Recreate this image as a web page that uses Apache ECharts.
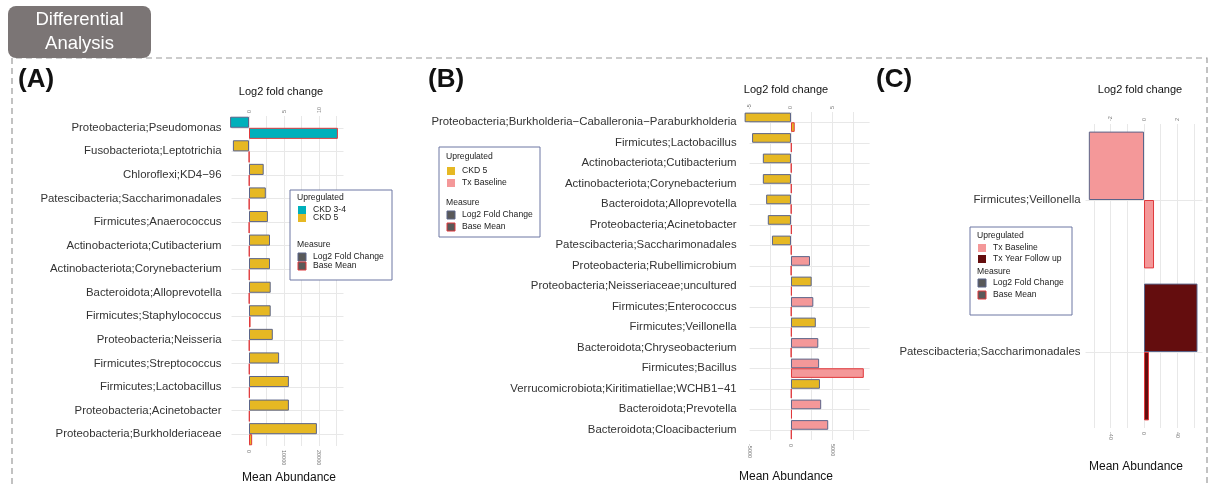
<!DOCTYPE html>
<html>
<head>
<meta charset="utf-8">
<script src="https://cdn.jsdelivr.net/npm/echarts@6/dist/echarts.min.js"></script>
<style>
  html, body { margin: 0; padding: 0; background: #fff; }
  #main { width: 1211px; height: 484px; }
</style>
</head>
<body>
<div id="main"></div>
<script>
// panel A : CKD 3-4 vs CKD 5
var catA = ['Proteobacteria;Pseudomonas', 'Fusobacteriota;Leptotrichia', 'Chloroflexi;KD4\u221296',
  'Patescibacteria;Saccharimonadales', 'Firmicutes;Anaerococcus', 'Actinobacteriota;Cutibacterium',
  'Actinobacteriota;Corynebacterium', 'Bacteroidota;Alloprevotella', 'Firmicutes;Staphylococcus',
  'Proteobacteria;Neisseria', 'Firmicutes;Streptococcus', 'Firmicutes;Lactobacillus',
  'Proteobacteria;Acinetobacter', 'Proteobacteria;Burkholderiaceae'];
var log2A = [-2.7, -2.3, 2.1, 2.4, 2.7, 3.0, 3.0, 3.1, 3.1, 3.4, 4.3, 5.7, 5.7, 9.7];
var baseA = [25400, 60, 120, 90, 80, 150, 140, 110, 450, 130, 160, 200, 190, 900];
var groupA = ['CKD 3-4', 'CKD 5', 'CKD 5', 'CKD 5', 'CKD 5', 'CKD 5', 'CKD 5', 'CKD 5', 'CKD 5',
  'CKD 5', 'CKD 5', 'CKD 5', 'CKD 5', 'CKD 5'];

// panel B : CKD 5 vs Tx Baseline
var catB = ['Proteobacteria;Burkholderia\u2212Caballeronia\u2212Paraburkholderia', 'Firmicutes;Lactobacillus',
  'Actinobacteriota;Cutibacterium', 'Actinobacteriota;Corynebacterium', 'Bacteroidota;Alloprevotella',
  'Proteobacteria;Acinetobacter', 'Patescibacteria;Saccharimonadales', 'Proteobacteria;Rubellimicrobium',
  'Proteobacteria;Neisseriaceae;uncultured', 'Firmicutes;Enterococcus', 'Firmicutes;Veillonella',
  'Bacteroidota;Chryseobacterium', 'Firmicutes;Bacillus', 'Verrucomicrobiota;Kiritimatiellae;WCHB1\u221241',
  'Bacteroidota;Prevotella', 'Bacteroidota;Cloacibacterium'];
var log2B = [-5.6, -4.7, -3.4, -3.4, -3.0, -2.8, -2.3, 2.3, 2.5, 2.7, 3.0, 3.3, 3.4, 3.5, 3.65, 4.5];
var baseB = [450, 80, 60, 70, 50, 90, 60, 40, 100, 60, 90, 40, 8800, 70, 120, 80];
var groupB = ['CKD 5', 'CKD 5', 'CKD 5', 'CKD 5', 'CKD 5', 'CKD 5', 'CKD 5', 'Tx Baseline',
  'CKD 5', 'Tx Baseline', 'CKD 5', 'Tx Baseline', 'Tx Baseline', 'CKD 5', 'Tx Baseline', 'Tx Baseline'];

// panel C : Tx Baseline vs Tx Year Follow up
var catC = ['Firmicutes;Veillonella', 'Patescibacteria;Saccharimonadales'];
var log2C = [-3.3, 3.2];
var baseC = [12, 6];
var groupC = ['Tx Baseline', 'Tx Year Follow up'];

var groupColor = {
  'CKD 3-4': '#00b0bb',
  'CKD 5': '#e6b823',
  'Tx Baseline': '#f49899',
  'Tx Year Follow up': '#640d0e'
};
var log2Border = '#5b6489';
var baseBorder = '#e0393c';
var font = 'Liberation Sans, Arial, sans-serif';

function barData(vals, groups, border) {
  return vals.map(function (v, i) {
    return { value: v, itemStyle: { color: groupColor[groups[i]], borderColor: border, borderWidth: 1 } };
  });
}

function keepLabels(list) {
  return function (v) {
    for (var i = 0; i < list.length; i++) {
      if (Math.abs(v - list[i]) < 1e-6) return String(list[i]);
    }
    return '';
  };
}

function topAxis(grid, min, max, interval, labels) {
  var ax = {
    type: 'value', gridIndex: grid, position: 'top', min: min, max: max,
    axisLine: { show: false }, axisTick: { show: false },
    axisLabel: { rotate: -90, fontSize: 5.5, color: '#777', margin: 3, formatter: keepLabels(labels) },
    splitLine: { show: true, showMinLine: false, showMaxLine: false, lineStyle: { color: '#e8e8e8', width: 1 } }
  };
  if (interval) ax.interval = interval; else ax.splitNumber = 7;
  return ax;
}

function bottomAxis(grid, min, max, interval, labels) {
  return {
    type: 'value', gridIndex: grid, position: 'bottom', min: min, max: max, interval: interval,
    axisLine: { show: false }, axisTick: { show: false },
    axisLabel: { rotate: -90, fontSize: 5.5, color: '#777', margin: 4, formatter: keepLabels(labels) },
    splitLine: { show: false }
  };
}

function catAxis(grid, cats, margin) {
  return {
    type: 'category', gridIndex: grid, data: cats, inverse: true,
    axisLine: { show: false }, axisTick: { show: false },
    axisLabel: { fontFamily: font, fontSize: 11.4, color: '#333', margin: margin },
    splitLine: { show: true, alignWithLabel: true, lineStyle: { color: '#e8e8e8', width: 1 } }
  };
}

function pair(idx, log2, base, groups, gapPct) {
  return [
    { type: 'bar', name: 'Log2 Fold Change', xAxisIndex: idx * 2, yAxisIndex: idx, clip: false,
      barGap: '0%', barCategoryGap: gapPct, data: barData(log2, groups, log2Border) },
    { type: 'bar', name: 'Base Mean', xAxisIndex: idx * 2 + 1, yAxisIndex: idx, clip: false,
      barGap: '0%', barCategoryGap: gapPct, data: barData(base, groups, baseBorder) }
  ];
}

function label(x, y, text, size) {
  return { type: 'text', x: x, y: y, z: 50,
    style: { text: text, font: size + 'px ' + font, fill: '#111', align: 'center', verticalAlign: 'middle' } };
}

function legendBox(x, y, w, h, groups, rowY) {
  var f = '8.6px ' + font;
  var els = [
    { type: 'rect', z: 50, shape: { x: x, y: y, width: w, height: h }, style: { fill: '#fff', stroke: '#6d76a3', lineWidth: 1 } },
    { type: 'text', z: 51, x: x + 7, y: rowY[0], style: { text: 'Upregulated', font: f, fill: '#222', verticalAlign: 'middle' } },
    { type: 'text', z: 51, x: x + 7, y: rowY[3], style: { text: 'Measure', font: f, fill: '#222', verticalAlign: 'middle' } }
  ];
  groups.forEach(function (g, i) {
    var cy = rowY[1 + i];
    els.push({ type: 'rect', z: 51, shape: { x: x + 8, y: cy - 4, width: 8, height: 8 }, style: { fill: groupColor[g] } });
    els.push({ type: 'text', z: 51, x: x + 23, y: cy, style: { text: g, font: f, fill: '#222', verticalAlign: 'middle' } });
  });
  [['Log2 Fold Change', log2Border], ['Base Mean', baseBorder]].forEach(function (m, i) {
    var cy = rowY[4 + i];
    els.push({ type: 'rect', z: 51, shape: { x: x + 8, y: cy - 4, width: 8, height: 8 }, style: { fill: '#595959', stroke: m[1], lineWidth: 1 } });
    els.push({ type: 'text', z: 51, x: x + 23, y: cy, style: { text: m[0], font: f, fill: '#222', verticalAlign: 'middle' } });
  });
  return els;
}

var chart = echarts.init(document.getElementById('main'));

var graphics = [
  { type: 'polyline', z: 50, shape: { points: [[12, 484], [12, 58], [1207, 58], [1207, 484]] },
    style: { stroke: '#9a9a9a', lineWidth: 1.2, lineDash: [6, 4], fill: null } },
  { type: 'rect', z: 51, shape: { x: 8, y: 6, width: 143, height: 52, r: 8 }, style: { fill: '#7b7575' } },
  { type: 'text', z: 52, x: 79.5, y: 32, style: { text: 'Differential\nAnalysis', font: '18.5px ' + font, fill: '#fff',
    align: 'center', verticalAlign: 'middle', lineHeight: 24 } },
  { type: 'text', z: 50, x: 18, y: 80, style: { text: '(A)', font: 'bold 26px ' + font, fill: '#111', verticalAlign: 'middle' } },
  { type: 'text', z: 50, x: 428, y: 80, style: { text: '(B)', font: 'bold 26px ' + font, fill: '#111', verticalAlign: 'middle' } },
  { type: 'text', z: 50, x: 876, y: 80, style: { text: '(C)', font: 'bold 26px ' + font, fill: '#111', verticalAlign: 'middle' } },
  label(281, 92, 'Log2 fold change', 11),
  label(289, 478, 'Mean Abundance', 12),
  label(786, 90, 'Log2 fold change', 11),
  label(786, 477, 'Mean Abundance', 12),
  label(1140, 90, 'Log2 fold change', 11),
  label(1136, 467, 'Mean Abundance', 12)
];
graphics = graphics
  .concat(legendBox(290, 190, 102, 90, ['CKD 3-4', 'CKD 5'], [198, 210, 218, 245, 257, 266]))
  .concat(legendBox(439, 147, 101, 90, ['CKD 5', 'Tx Baseline'], [157, 171, 183, 203, 215, 227]))
  .concat(legendBox(970, 227, 102, 88, ['Tx Baseline', 'Tx Year Follow up'], [236, 248, 259, 272, 283, 295]));

var option = {
  backgroundColor: '#fff',
  animation: false,
  textStyle: { fontFamily: font },
  grid: [
    { left: 231.5, top: 116, width: 112, height: 330, outerBoundsMode: 'none' },
    { left: 749.6, top: 112, width: 120, height: 328, outerBoundsMode: 'none' },
    { left: 1085.5, top: 124, width: 117, height: 304, outerBoundsMode: 'none' }
  ],
  yAxis: [catAxis(0, catA, 10), catAxis(1, catB, 13), catAxis(2, catC, 5)],
  xAxis: [
    topAxis(0, -2.5, 13.5, 2.5, [0, 5, 10]),
    bottomAxis(0, -5000, 27000, 5000, [0, 10000, 20000]),
    topAxis(1, -5, 9.5, 2.5, [-5, 0, 5]),
    bottomAxis(1, -5000, 9500, 2500, [-5000, 0, 5000]),
    topAxis(2, -3.5, 3.5, null, [-2, 0, 2]),
    bottomAxis(2, -70, 70, 10, [-40, 0, 40])
  ],
  series: [].concat(
    pair(0, log2A, baseA, groupA, '6%'),
    pair(1, log2B, baseB, groupB, '6%'),
    pair(2, log2C, baseC, groupC, '10%')
  ),
  graphic: graphics
};
chart.setOption(option);
</script>
</body>
</html>
